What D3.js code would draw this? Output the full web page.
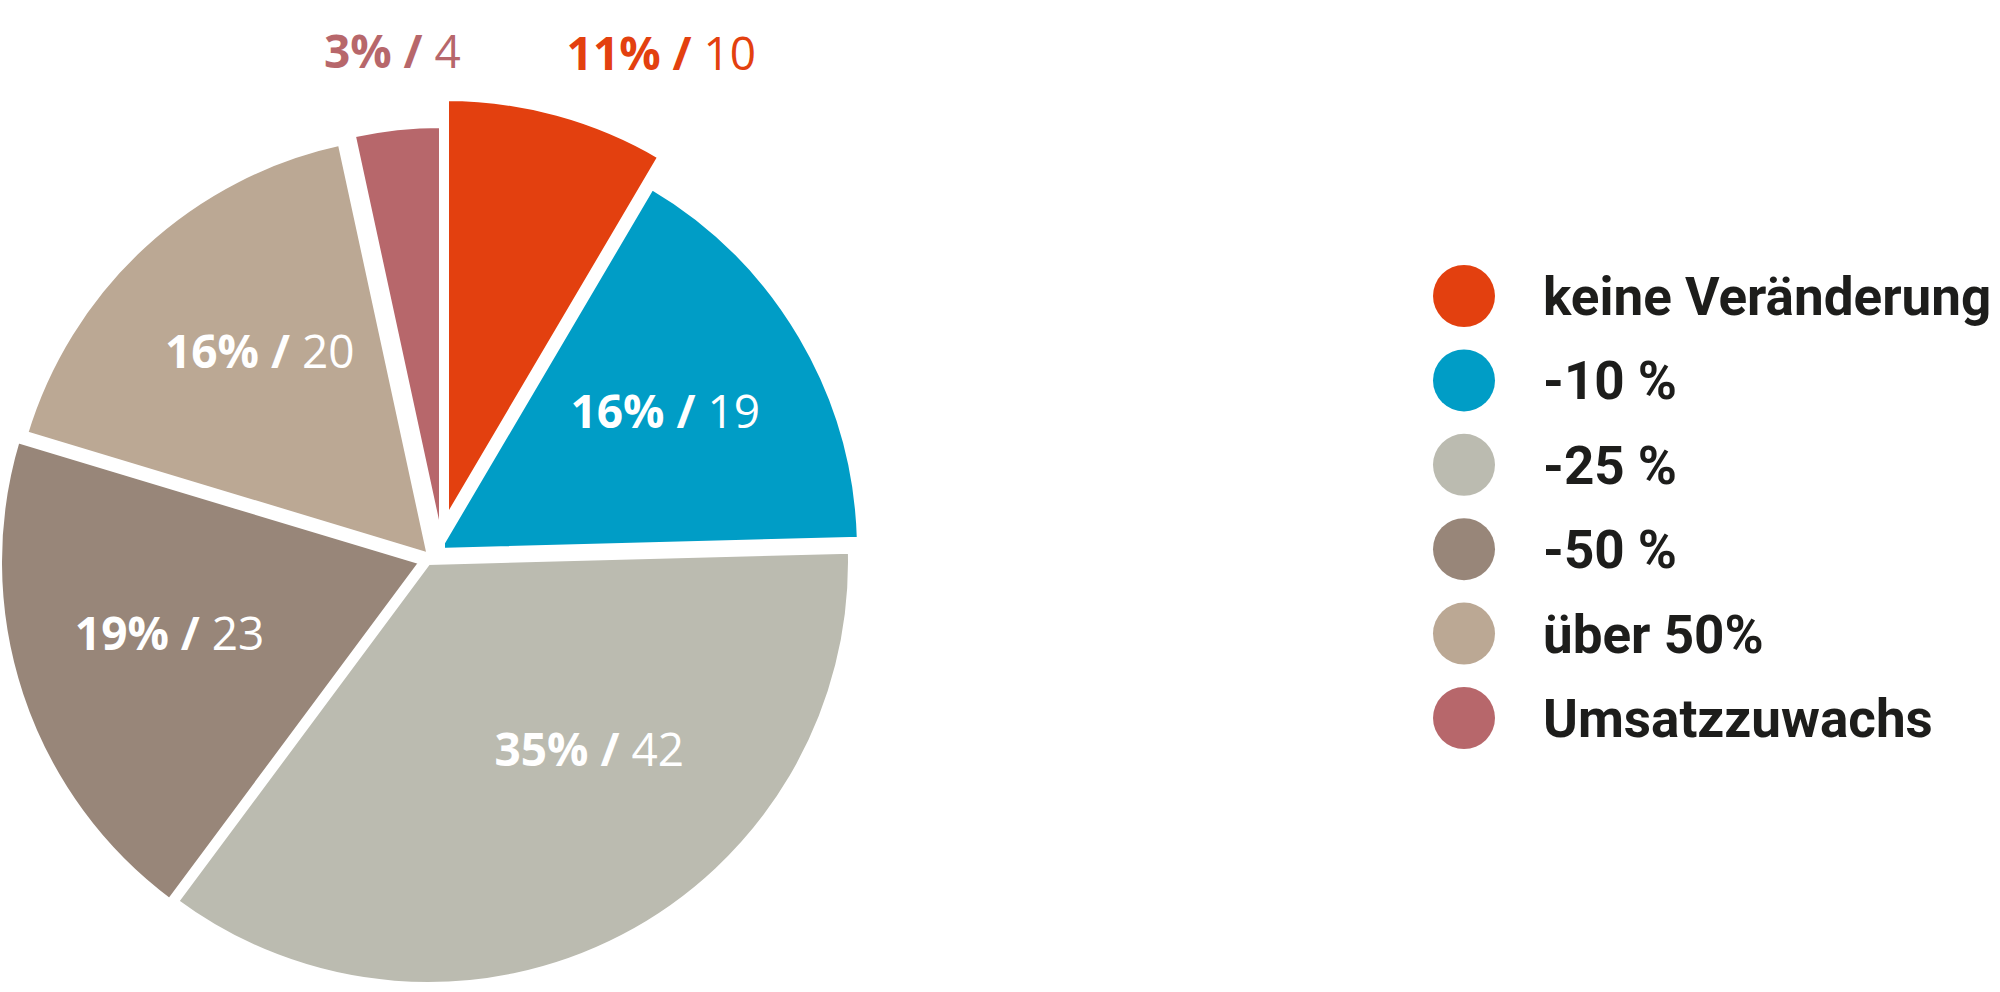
<!DOCTYPE html>
<html>
<head>
<meta charset="utf-8">
<script src="https://cdn.jsdelivr.net/npm/d3@7"></script>
<style>
  body { margin: 0; background: #fff; }
  svg { display: block; }
</style>
</head>
<body>
<script>
// data
var categories = ['keine Veränderung', '-10 %', '-25 %', '-50 %', 'über 50%', 'Umsatzzuwachs'];
var counts = [10, 19, 42, 23, 20, 4];
var percentLabels = ['11%', '16%', '35%', '19%', '16%', '3%'];
var colors = ['#e3400f', '#009dc6', '#bbbbb0', '#988679', '#bba894', '#b7676b'];
var outsideLabel = [true, false, false, false, false, true];

var scr = { w: 2000, h: 992 };
var pieCenter = { x: 435, y: 555 };
var radius = 423;
// small nudge of each slice away from the middle (px), like the original
var sliceShift = [[11, -34], [2, -4], [-7, 7], [-13, 7], [-5, 1], [7, -7]];
// label placement: radius factor and angle nudge (degrees) per slice
var labelPlace = [[1.216, 9.5], [0.633, -1], [0.584, -13.3], [0.62, 2.5], [0.63, 3], [1.18, 0.4]];

var svg = d3.select('body')
    .append('svg')
    .attr('width', scr.w)
    .attr('height', scr.h);

var pie = d3.pie()
    .sort(null)
    .value(function(d) { return d; });

var arcs = pie(counts);

var arc = d3.arc()
    .innerRadius(0)
    .outerRadius(radius);

var pieG = svg.append('g')
    .attr('transform', 'translate(' + pieCenter.x + ',' + pieCenter.y + ')');

var slices = pieG.selectAll('g.slice')
    .data(arcs)
    .enter()
    .append('g')
    .classed('slice', true)
    .attr('transform', function(d, i) {
        return 'translate(' + sliceShift[i][0] + ',' + sliceShift[i][1] + ')';
    });

slices.append('path')
    .attr('d', arc)
    .attr('fill', function(d, i) { return colors[i]; })
    .attr('stroke', '#fff')
    .attr('stroke-width', 6)
    .attr('stroke-linejoin', 'miter');

var labels = slices.append('text')
    .attr('transform', function(d, i) {
        var mid = (d.startAngle + d.endAngle) / 2 + labelPlace[i][1] * Math.PI / 180;
        var r = radius * labelPlace[i][0];
        return 'translate(' + (r * Math.sin(mid)) + ',' + (-r * Math.cos(mid)) + ')';
    })
    .attr('text-anchor', 'middle')
    .attr('dy', '0.36em')
    .attr('font-family', '"Open Sans", "Noto Sans", sans-serif')
    .attr('font-size', 46)
    .attr('fill', function(d, i) { return outsideLabel[i] ? colors[i] : '#fff'; });

labels.append('tspan')
    .attr('font-weight', 700)
    .text(function(d, i) { return percentLabels[i] + ' /'; });
labels.append('tspan')
    .attr('font-weight', 400)
    .text(function(d) { return ' ' + d.data; });

// legend
var legendY = d3.scalePoint()
    .domain(categories)
    .range([296, 718]);

var legend = svg.append('g')
    .attr('transform', 'translate(1464,0)');

var rows = legend.selectAll('g')
    .data(categories)
    .enter()
    .append('g')
    .attr('transform', function(d) { return 'translate(0,' + legendY(d) + ')'; });

rows.append('circle')
    .attr('r', 31)
    .attr('fill', function(d, i) { return colors[i]; });

rows.append('text')
    .attr('x', 79)
    .attr('dy', '0.36em')
    .attr('font-family', 'Roboto, sans-serif')
    .attr('font-weight', 700)
    .attr('font-size', 53)
    .attr('fill', '#1d1d1b')
    .text(function(d) { return d; });
</script>
</body>
</html>
